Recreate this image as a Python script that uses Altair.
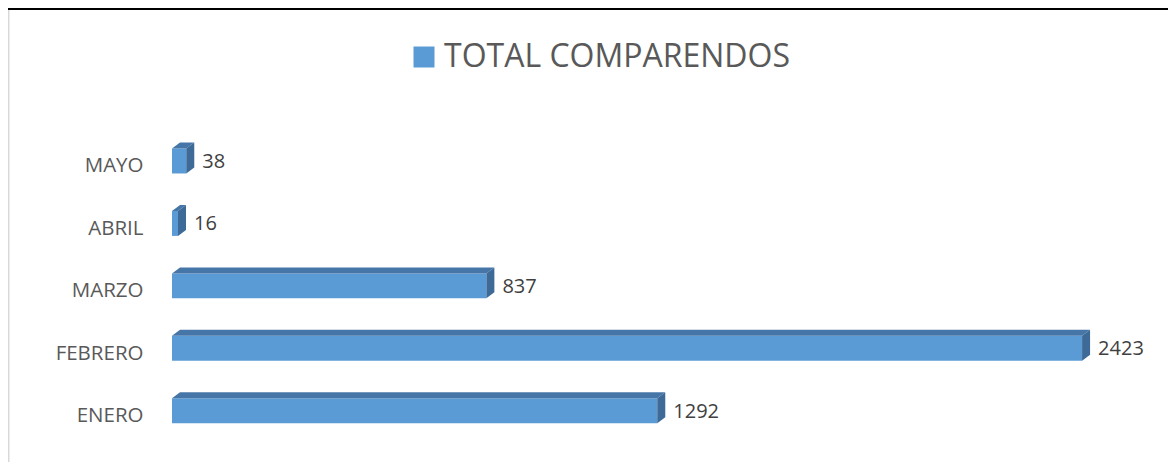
import altair as alt
import pandas as pd

months = ["ENERO", "FEBRERO", "MARZO", "ABRIL", "MAYO"]
values = [1292, 2423, 837, 16, 38]
series_name = "TOTAL COMPARENDOS"

# geometry / style constants (not data)
XMAX = 2500
W = 939
H = 434
PAD_L = 164
YDOM = [-0.5, 6.45]
HALF = 0.2            # half height of front face (in category units)
DX = 8 * XMAX / W     # 3D depth in x (data units ~ 8px)
DY = 6 * (YDOM[1] - YDOM[0]) / H  # 3D depth in y (~ 6px)

FRONT = "#5B9BD5"
TOP = "#4676A8"
SIDE = "#3D6A96"

front_rows, top_rows, side_rows = [], [], []
for p, (m, v) in enumerate(zip(months, values)):
    front_rows.append({"month": m, "x0": 0, "x1": v, "ya": p - HALF, "yb": p + HALF,
                       "series": series_name, "value": v, "p": p})
    yb = p + HALF
    yt = yb + DY
    def lower(x):
        return yb if x <= v else yb + (x - v) * DY / DX
    def upper(x):
        return yb + x * DY / DX if x <= DX else yt
    for x in sorted({0.0, float(v), DX, v + DX}):
        top_rows.append({"month": m, "x": x, "ya": lower(x), "yb": upper(x)})
    side_rows.append({"month": m, "x": float(v), "ya": p - HALF, "yb": p + HALF})
    side_rows.append({"month": m, "x": v + DX, "ya": p - HALF + DY, "yb": p + HALF + DY})

front_df = pd.DataFrame(front_rows)
top_df = pd.DataFrame(top_rows)
side_df = pd.DataFrame(side_rows)

xscale = alt.Scale(domain=[0, XMAX], nice=False, zero=False)
yscale = alt.Scale(domain=YDOM, nice=False, zero=False)

label_expr = "[" + ",".join("'" + m + "'" for m in months) + "][datum.value]"
yaxis = alt.Axis(values=list(range(len(months))), labelExpr=label_expr, ticks=False,
                 domain=False, grid=False, title=None, labelFontSize=20.5,
                 labelColor="#595959", labelPadding=29, labelOffset=5,
                 labelFont="Open Sans")

front = alt.Chart(front_df).mark_bar(strokeWidth=0).encode(
    x=alt.X("x0:Q", scale=xscale, axis=None),
    x2="x1:Q",
    y=alt.Y("ya:Q", scale=yscale, axis=yaxis),
    y2="yb:Q",
    color=alt.Color("series:N", scale=alt.Scale(range=[FRONT]),
                    legend=alt.Legend(orient="none", legendX=236, legendY=33, title=None,
                                      symbolType="square", symbolSize=441,
                                      symbolStrokeWidth=0, symbolOpacity=1,
                                      labelFontSize=32, labelColor="#595959",
                                      labelFont="Open Sans", labelOffset=4,
                                      labelLimit=0)),
)

def face(df, color):
    return alt.Chart(df).mark_area(color=color, orient="vertical", interpolate="linear",
                                   opacity=1).encode(
        x=alt.X("x:Q", scale=xscale, axis=None),
        y=alt.Y("ya:Q", scale=yscale, axis=yaxis, stack=None),
        y2="yb:Q",
        detail="month:N",
    )

top = face(top_df, TOP)
side = face(side_df, SIDE)

labels = alt.Chart(front_df).mark_text(align="left", baseline="middle", dx=16, dy=1,
                                       fontSize=20, color="#404040",
                                       font="Open Sans").encode(
    x=alt.X("value:Q", scale=xscale, axis=None),
    y=alt.Y("p:Q", scale=yscale, axis=yaxis),
    text="value:Q",
)

# page decorations: document table line at top and chart-area border on the left
top_line = alt.Chart(front_df.head(1)).mark_rule(color="#000000", strokeWidth=2).encode(
    x=alt.value(-PAD_L), x2=alt.value(W + 60), y=alt.value(1)
)
left_border = alt.Chart(front_df.head(1)).mark_rule(color="#D9D9D9", strokeWidth=1.5).encode(
    x=alt.value(-PAD_L + 0.75), y=alt.value(2), y2=alt.value(H + 20)
)

chart = alt.layer(top_line, left_border, front, top, side, labels).properties(
    width=W, height=H,
    autosize=alt.AutoSizeParams(type="none"),
    padding={"left": PAD_L, "top": 0, "right": 57, "bottom": 20},
).configure_view(stroke=None)

chart.save("out.html", embed_options={"renderer": "svg", "actions": False})
